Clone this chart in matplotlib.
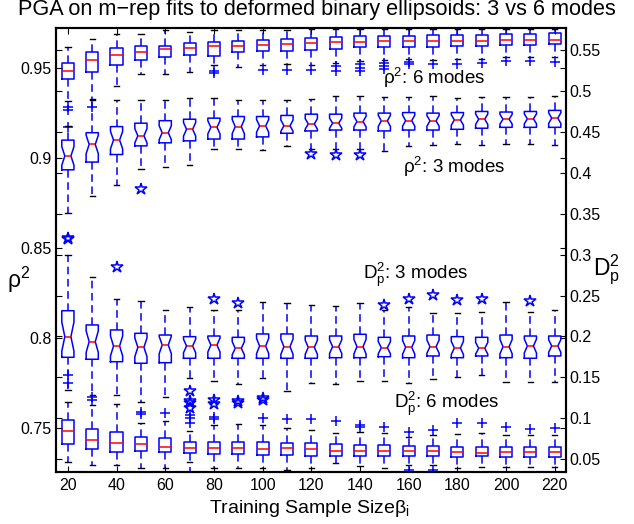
import numpy as np
import matplotlib
matplotlib.use("Agg")
from matplotlib import pyplot as plt

plt.rcParams['font.family'] = ['Liberation Sans', 'DejaVu Sans']
plt.rcParams['mathtext.fontset'] = 'custom'
plt.rcParams['mathtext.rm'] = 'Liberation Sans'
plt.rcParams['mathtext.it'] = 'Liberation Sans:italic'
plt.rcParams['mathtext.default'] = 'regular'

sample_sizes = [20, 30, 40, 50, 60, 70, 80, 90, 100, 110, 120,
                130, 140, 150, 160, 170, 180, 190, 200, 210, 220]
x_ticks = [20, 40, 60, 80, 100, 120, 140, 160, 180, 200, 220]
rho_ticks = [0.75, 0.8, 0.85, 0.9, 0.95]
rho_labels = ["0.75", "0.8", "0.85", "0.9", "0.95"]
dp_ticks = [0.05, 0.1, 0.15, 0.2, 0.25, 0.3, 0.35, 0.4, 0.45, 0.5, 0.55]
dp_labels = ["0.05", "0.1", "0.15", "0.2", "0.25", "0.3", "0.35", "0.4", "0.45", "0.5", "0.55"]

# rho^2, 6 modes (left axis)
rho6_med = [0.9485, 0.9545, 0.9575, 0.9592, 0.9607, 0.9614, 0.9622, 0.9625, 0.9629, 0.9633, 0.9639,
            0.9644, 0.9648, 0.9650, 0.9653, 0.9653, 0.9653, 0.9653, 0.9657, 0.9659, 0.9659]
rho6_q1 = [0.9438, 0.9481, 0.9517, 0.9547, 0.9560, 0.9573, 0.9566, 0.9588, 0.9597, 0.9597, 0.9603,
           0.9607, 0.9616, 0.9616, 0.9616, 0.9620, 0.9625, 0.9625, 0.9629, 0.9631, 0.9635]
rho6_q3 = [0.9532, 0.9588, 0.9611, 0.9625, 0.9625, 0.9639, 0.9644, 0.9653, 0.9659, 0.9663, 0.9667,
           0.9673, 0.9678, 0.9678, 0.9682, 0.9685, 0.9685, 0.9685, 0.9691, 0.9691, 0.9695]
rho6_lo = [0.9316, 0.9331, 0.9401, 0.9466, 0.9470, 0.9481, 0.9519, 0.9507, 0.9517, 0.9522, 0.9517,
           0.9532, 0.9541, 0.9547, 0.9551, 0.9547, 0.9551, 0.9551, 0.9560, 0.9560, 0.9560]
rho6_hi = [0.9617, 0.9663, 0.9691, 0.9691, 0.9710, 0.9704, 0.9710, 0.9714, 0.9714, 0.9714, 0.9716,
           0.9716, 0.9716, 0.9716, 0.9716, 0.9716, 0.9716, 0.9716, 0.9716, 0.9716, 0.9716]
rho6_out = [[0.9285, 0.9270, 0.9176], [0.9285], [], [], [], [], [0.9485, 0.9476], [], [0.9490],
            [0.9490], [0.9490], [0.9513, 0.9485], [0.9522, 0.9504, 0.9485], [0.9532, 0.9513, 0.9494],
            [0.9535, 0.9522], [0.9522], [0.9522], [0.9532], [0.9541], [0.9541], [0.9535]]

# rho^2, 3 modes (left axis)
rho3_med = [0.9013, 0.9077, 0.9101, 0.9125, 0.9142, 0.9161, 0.9172, 0.9176, 0.9180, 0.9181, 0.9191,
            0.9195, 0.9204, 0.9208, 0.9209, 0.9208, 0.9213, 0.9217, 0.9217, 0.9219, 0.9223]
rho3_q1 = [0.8936, 0.8979, 0.9021, 0.9069, 0.9086, 0.9097, 0.9107, 0.9107, 0.9119, 0.9139, 0.9152,
           0.9157, 0.9157, 0.9152, 0.9157, 0.9157, 0.9161, 0.9167, 0.9172, 0.9172, 0.9172]
rho3_q3 = [0.9101, 0.9142, 0.9176, 0.9195, 0.9209, 0.9217, 0.9223, 0.9232, 0.9232, 0.9238, 0.9245,
           0.9245, 0.9251, 0.9251, 0.9254, 0.9251, 0.9254, 0.9260, 0.9257, 0.9260, 0.9266]
rho3_lo = [0.8698, 0.8788, 0.8852, 0.8942, 0.8951, 0.8960, 0.9050, 0.9054, 0.9045, 0.9067, 0.9054,
           0.9054, 0.9054, 0.9039, 0.9067, 0.9073, 0.9077, 0.9073, 0.9079, 0.9082, 0.9073]
rho3_hi = [0.9180, 0.9326, 0.9326, 0.9326, 0.9326, 0.9335, 0.9335, 0.9322, 0.9326, 0.9326, 0.9331,
           0.9348, 0.9344, 0.9339, 0.9341, 0.9344, 0.9335, 0.9341, 0.9341, 0.9341, 0.9344]
rho3_out = [[0.8554], [], [], [0.8830], [], [], [], [], [], [], [0.9026],
            [0.9017], [0.9017], [], [], [], [], [], [], [], []]

# D_p^2, 3 modes (right axis)
dp3_med = [0.1998, 0.1937, 0.1884, 0.1868, 0.1896, 0.1884, 0.1896, 0.1856, 0.1884, 0.1876, 0.1868,
           0.1876, 0.1876, 0.1863, 0.1868, 0.1876, 0.1860, 0.1856, 0.1876, 0.1884, 0.1884]
dp3_q1 = [0.1746, 0.1722, 0.1692, 0.1673, 0.1680, 0.1734, 0.1734, 0.1734, 0.1734, 0.1734, 0.1734,
          0.1741, 0.1741, 0.1753, 0.1741, 0.1762, 0.1741, 0.1762, 0.1741, 0.1734, 0.1762]
dp3_q3 = [0.2315, 0.2141, 0.2080, 0.2039, 0.2018, 0.1998, 0.2006, 0.1990, 0.2031, 0.2031, 0.2006,
          0.2006, 0.2027, 0.1990, 0.2006, 0.2018, 0.1998, 0.1990, 0.2018, 0.2006, 0.2006]
dp3_lo = [0.1347, 0.1280, 0.1280, 0.1204, 0.1265, 0.1489, 0.1460, 0.1420, 0.1497, 0.1338, 0.1428,
          0.1420, 0.1460, 0.1460, 0.1428, 0.1477, 0.1509, 0.1530, 0.1448, 0.1448, 0.1448]
dp3_hi = [0.2996, 0.2731, 0.2455, 0.2437, 0.2324, 0.2364, 0.2324, 0.2324, 0.2425, 0.2413, 0.2385,
          0.2373, 0.2413, 0.2324, 0.2357, 0.2283, 0.2283, 0.2303, 0.2425, 0.2303, 0.2324]
dp3_out = [[0.3200], [], [0.2845], [], [], [0.1338, 0.1216, 0.1184, 0.1123], [0.2455, 0.1224, 0.1175],
           [0.2413, 0.1216, 0.1191], [0.1245, 0.1224], [], [], [], [], [0.2385], [0.2458], [0.2507],
           [0.2446], [0.2458], [], [0.2434], []]

# D_p^2, 6 modes (right axis)
dp6_med = [0.0849, 0.0736, 0.0703, 0.0683, 0.0647, 0.0642, 0.0634, 0.0634, 0.0626, 0.0634, 0.0622,
           0.0601, 0.0605, 0.0605, 0.0601, 0.0601, 0.0593, 0.0581, 0.0593, 0.0585, 0.0585]
dp6_q1 = [0.0683, 0.0626, 0.0593, 0.0605, 0.0585, 0.0581, 0.0561, 0.0561, 0.0553, 0.0553, 0.0544,
          0.0540, 0.0544, 0.0544, 0.0544, 0.0544, 0.0532, 0.0540, 0.0532, 0.0532, 0.0532]
dp6_q3 = [0.0980, 0.0867, 0.0837, 0.0769, 0.0757, 0.0715, 0.0715, 0.0715, 0.0715, 0.0696, 0.0696,
          0.0683, 0.0675, 0.0675, 0.0666, 0.0662, 0.0654, 0.0654, 0.0654, 0.0647, 0.0647]
dp6_lo = [0.0463, 0.0430, 0.0430, 0.0390, 0.0390, 0.0471, 0.0390, 0.0397, 0.0397, 0.0369, 0.0390,
          0.0451, 0.0418, 0.0397, 0.0430, 0.0430, 0.0390, 0.0410, 0.0410, 0.0410, 0.0410]
dp6_hi = [0.1204, 0.1163, 0.1172, 0.0947, 0.0972, 0.0846, 0.0919, 0.0931, 0.0919, 0.0879, 0.0858,
          0.0825, 0.0837, 0.0825, 0.0776, 0.0797, 0.0805, 0.0818, 0.0797, 0.0797, 0.0797]
dp6_out = [[0.1530, 0.1436], [0.1265, 0.1224], [], [0.1081, 0.1053], [0.1069],
           [0.1041, 0.1001, 0.0940, 0.0345], [0.1020, 0.0989], [], [0.1001], [0.0989], [0.0989],
           [0.0972], [0.0919, 0.0891], [0.0891], [0.0837, 0.0369], [0.0858, 0.0369], [0.0940],
           [0.0947], [0.0891], [0.0867], [0.0879]]


def make_stats(med, q1, q3, lo, hi, out, n=25):
    stats = []
    for i in range(len(med)):
        half = 1.57 * (q3[i] - q1[i]) / np.sqrt(n)
        stats.append(dict(med=med[i], q1=q1[i], q3=q3[i], whislo=lo[i], whishi=hi[i],
                          fliers=out[i], cilo=med[i] - half, cihi=med[i] + half))
    return stats


def draw(ax, stats, notch, marker, msize):
    ax.bxp(stats, positions=sample_sizes, widths=5, shownotches=notch, manage_ticks=False,
           capwidths=2.2,
           boxprops=dict(color="#0000ff", linewidth=1.1),
           medianprops=dict(color="#ff0000", linewidth=1.1),
           whiskerprops=dict(color="#0000ff", linewidth=1.1, linestyle=(0, (5, 3))),
           capprops=dict(color="black", linewidth=1.0),
           flierprops=dict(marker=marker, markerfacecolor="none", markeredgecolor="#0000ff",
                           markersize=msize, markeredgewidth=1.1, linestyle="none"))


fig = plt.figure(figsize=(6.34, 5.24), dpi=100)
ax = fig.add_axes([55.7 / 634, 1 - 472.3 / 524, 510 / 634, 444 / 524])
ax2 = ax.twinx()

draw(ax, make_stats(rho6_med, rho6_q1, rho6_q3, rho6_lo, rho6_hi, rho6_out), False, "+", 7)
draw(ax, make_stats(rho3_med, rho3_q1, rho3_q3, rho3_lo, rho3_hi, rho3_out), True, "*", 9)
draw(ax2, make_stats(dp3_med, dp3_q1, dp3_q3, dp3_lo, dp3_hi, dp3_out), True, "*", 9)
draw(ax2, make_stats(dp6_med, dp6_q1, dp6_q3, dp6_lo, dp6_hi, dp6_out), False, "+", 7)

ax.set_xlim(15, 224.5)
ax.set_ylim(0.7256, 0.9722)
ax2.set_ylim(0.0341, 0.5765)

ax.set_xticks(x_ticks)
ax.set_xticklabels([str(t) for t in x_ticks])
ax.set_yticks(rho_ticks)
ax.set_yticklabels(rho_labels)
ax2.set_yticks(dp_ticks)
ax2.set_yticklabels(dp_labels)

ax.tick_params(axis="x", direction="in", length=4, top=True, labelsize=11.5, pad=4)
ax.tick_params(axis="y", direction="in", length=4, right=True, labelright=False, labelsize=11.5, pad=3)
ax2.tick_params(axis="y", direction="in", length=4, left=True, labelleft=False, labelsize=11.5, pad=3)
for a in (ax, ax2):
    for s in a.spines.values():
        s.set_linewidth(1.5)

ax.text(149.5, 0.9413, "$ρ^2$: 6 modes", fontsize=13.5, va="baseline")
ax.text(157.7, 0.8917, "$ρ^2$: 3 modes", fontsize=13.5, va="baseline")
ax.text(141.2, 0.8328, "$D_p^2$: 3 modes", fontsize=13.5, va="baseline")
ax.text(154.0, 0.7611, "$D_p^2$: 6 modes", fontsize=13.5, va="baseline")

fig.text(19 / 634, 1 - 280 / 524, "$ρ^2$", fontsize=16.5, ha="center", va="center")
fig.text(606 / 634, 1 - 270 / 524, "$D_p^2$", fontsize=16.5, ha="center", va="center")
fig.text(309 / 634, 1 - 513 / 524, "Training Sample Size$β_i$", fontsize=14, ha="center", va="baseline")
fig.text(0.5, 1 - 10 / 524, "PGA on m−rep fits to deformed binary ellipsoids: 3 vs 6 modes",
         fontsize=15.6, ha="center", va="center")

fig.savefig("out.png", dpi=100)
